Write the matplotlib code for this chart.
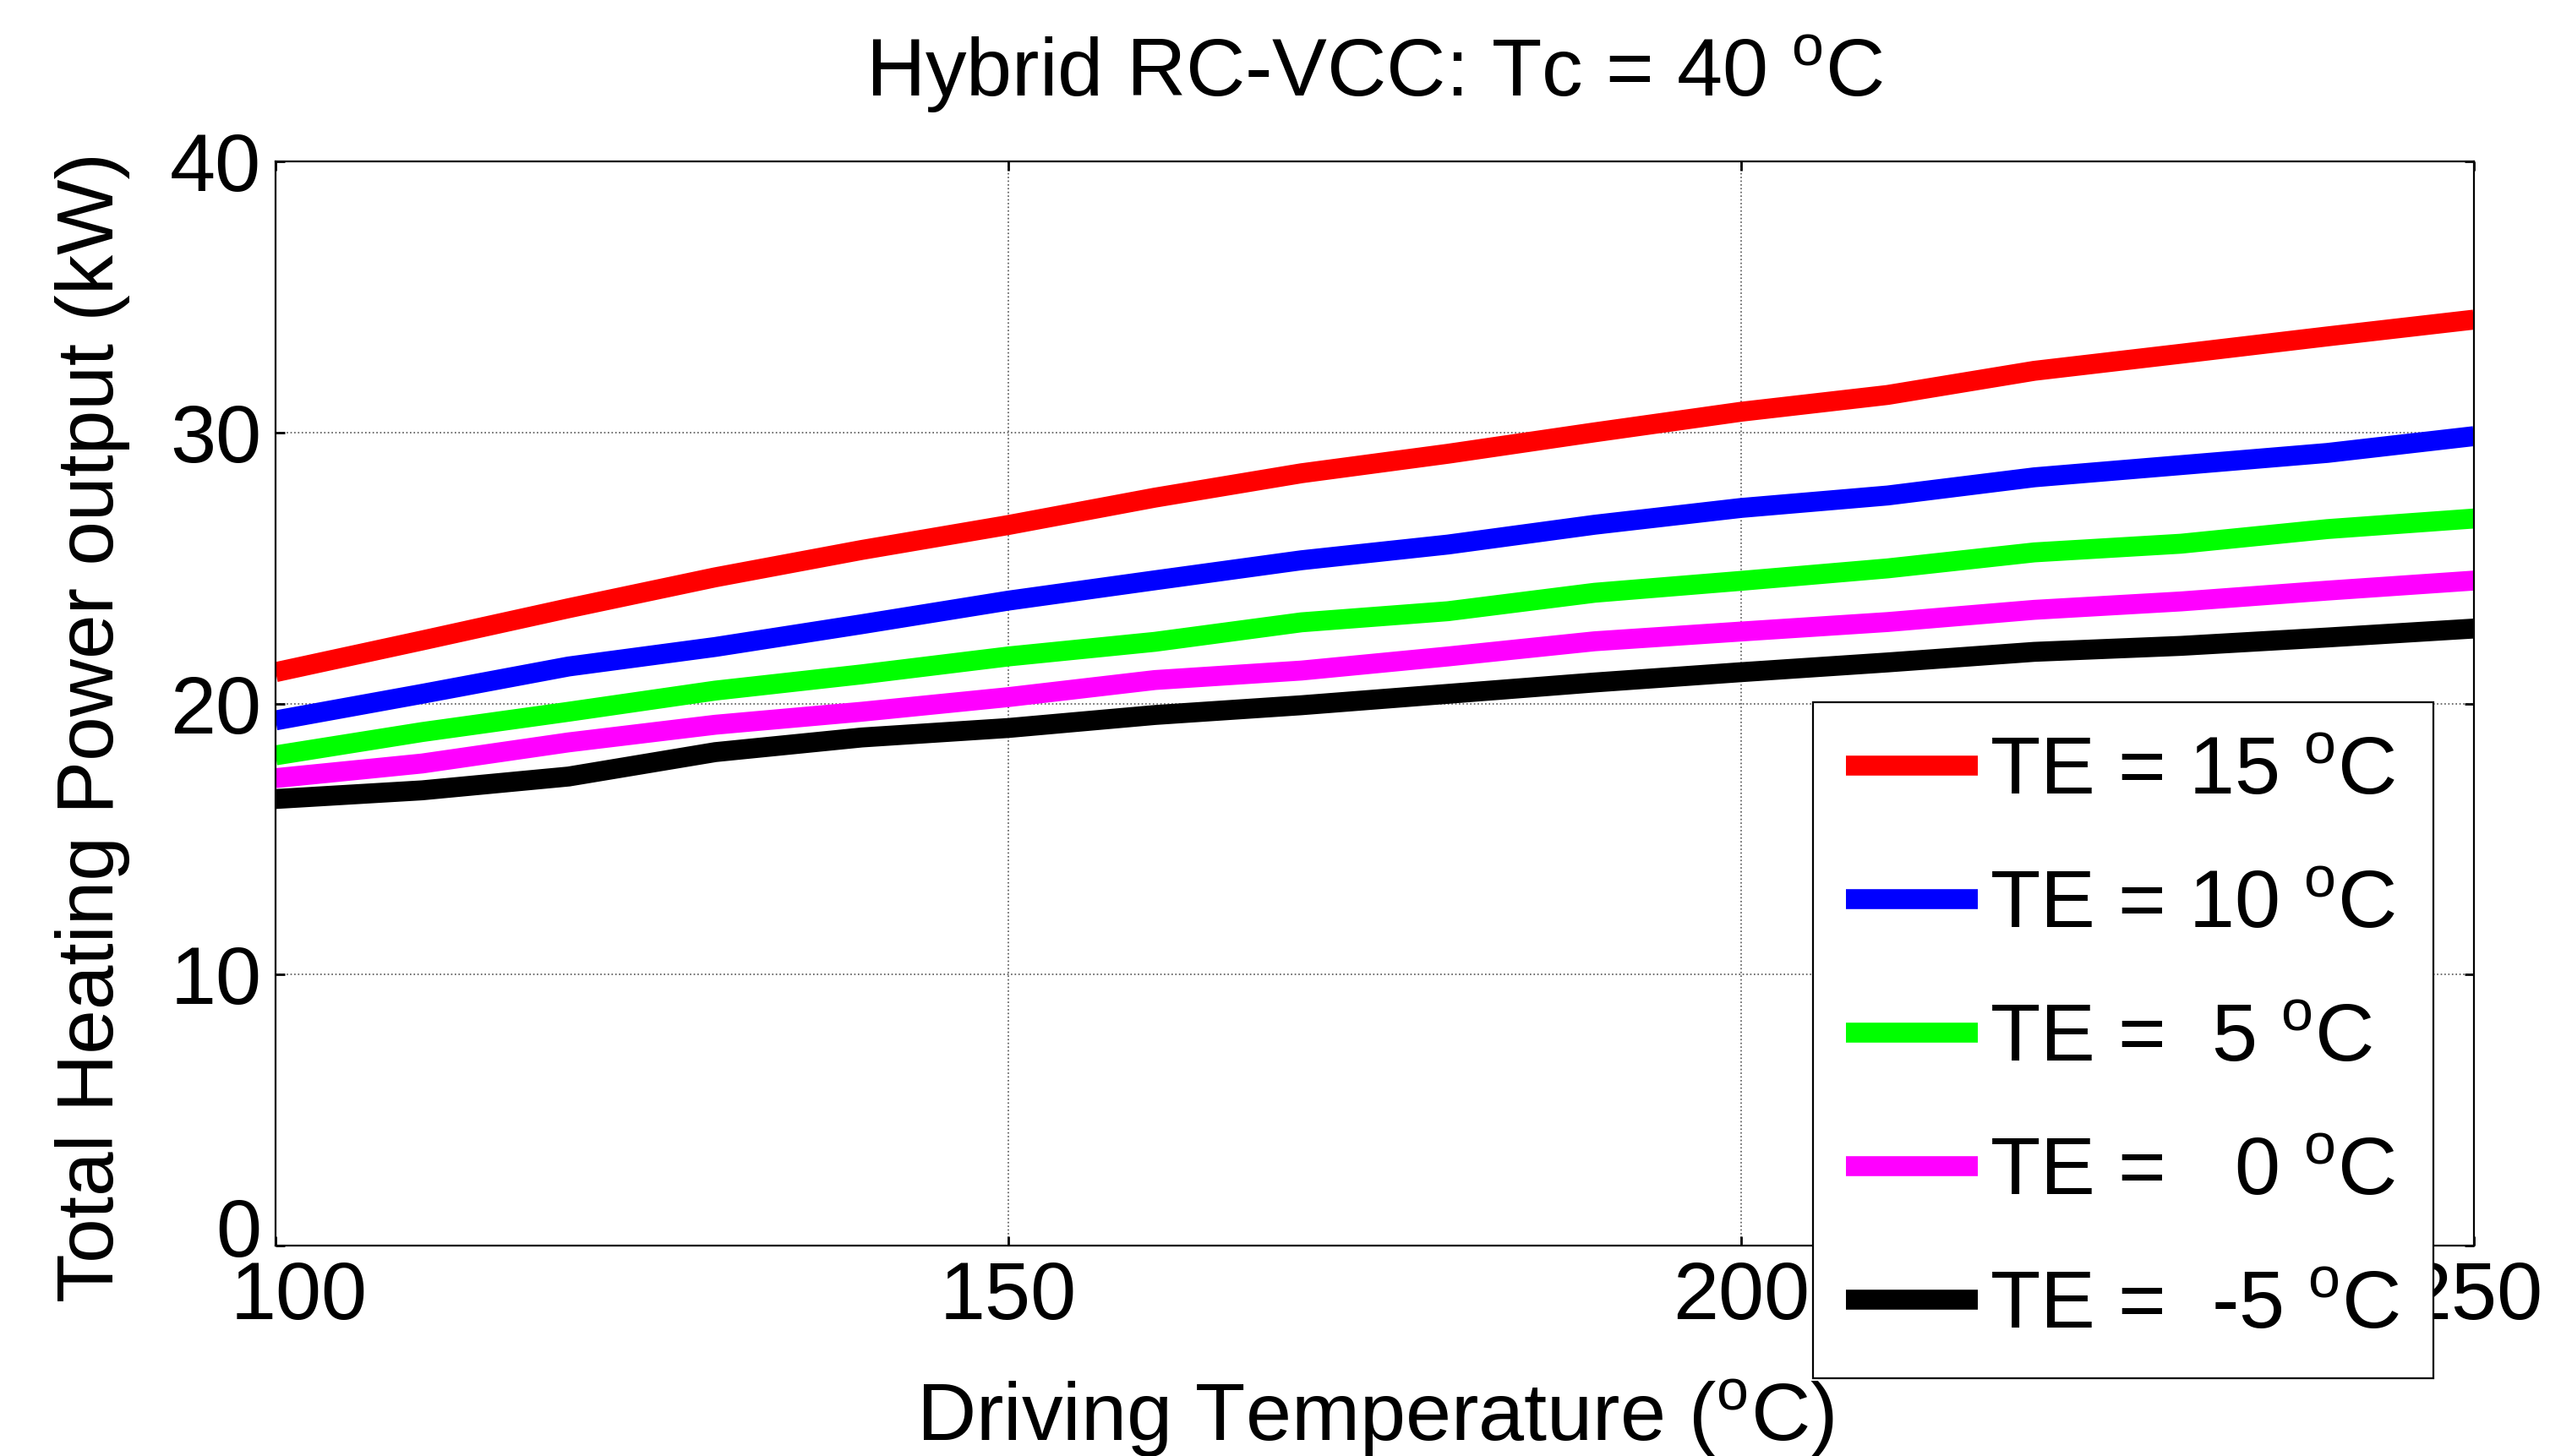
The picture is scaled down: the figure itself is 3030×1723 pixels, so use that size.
import matplotlib
matplotlib.use('Agg')
import matplotlib.pyplot as plt
import matplotlib.transforms as mtransforms
import numpy as np

plt.rcParams['font.family'] = ['Liberation Sans', 'DejaVu Sans']
plt.rcParams['mathtext.fontset'] = 'custom'
plt.rcParams['mathtext.rm'] = 'Liberation Sans'
plt.rcParams['mathtext.it'] = 'Liberation Sans:italic'

# driving temperature (C)
drive_temp = [100, 110, 120, 130, 140, 150, 160, 170, 180, 190, 200, 210, 220, 230, 240, 250]

# total heating power (kW) for each evaporator temperature
te_15 = [21.16, 22.33, 23.52, 24.66, 25.67, 26.59, 27.60, 28.50, 29.22, 30.01, 30.77, 31.39, 32.28, 32.91, 33.55, 34.17]
te_10 = [19.38, 20.36, 21.37, 22.09, 22.93, 23.80, 24.55, 25.29, 25.87, 26.60, 27.22, 27.68, 28.35, 28.80, 29.25, 29.87]
te_5 = [18.09, 18.95, 19.70, 20.48, 21.08, 21.74, 22.28, 23.00, 23.41, 24.09, 24.53, 24.99, 25.58, 25.90, 26.44, 26.83]
te_0 = [17.25, 17.79, 18.57, 19.22, 19.70, 20.24, 20.87, 21.22, 21.74, 22.30, 22.66, 23.01, 23.46, 23.77, 24.17, 24.54]
te_m5 = [16.48, 16.80, 17.31, 18.21, 18.75, 19.10, 19.58, 19.94, 20.36, 20.78, 21.16, 21.52, 21.91, 22.13, 22.44, 22.77]

series = [te_15, te_10, te_5, te_0, te_m5]
colors = ['#ff0000', '#0000ff', '#00ff00', '#ff00ff', '#000000']
labels = ['TE = 15 $^{\\mathrm{o}}$C',
          'TE = 10 $^{\\mathrm{o}}$C',
          'TE =  5 $^{\\mathrm{o}}$C',
          'TE =   0 $^{\\mathrm{o}}$C',
          'TE =  -5 $^{\\mathrm{o}}$C']

fs = 35

fig = plt.figure(figsize=(15.15, 8.615), dpi=200)
ax = fig.add_axes([0.1076, 0.1445, 0.8584, 0.7445])

for vals, c, lab in zip(series, colors, labels):
    ax.plot(drive_temp, vals, color=c, linewidth=8.5, label=lab, solid_capstyle='butt')

ax.set_xlim(100, 250)
ax.set_ylim(0, 40)
ax.set_xticks([100, 150, 200, 250])
ax.set_yticks([0, 10, 20, 30, 40])
ax.grid(True, linestyle=':', color='#555555', linewidth=0.6)
ax.tick_params(direction='in', length=4, width=1, labelsize=fs, pad=6,
               top=True, right=True)
for s in ax.spines.values():
    s.set_linewidth(0.8)

# MATLAB-style nudges of the corner tick labels
ylab0 = ax.get_yticklabels()[0]
ylab0.set_transform(ylab0.get_transform() +
                    mtransforms.ScaledTranslation(0, 8 / 72, fig.dpi_scale_trans))
xlab0 = ax.get_xticklabels()[0]
xlab0.set_transform(xlab0.get_transform() +
                    mtransforms.ScaledTranslation(10 / 72, 0, fig.dpi_scale_trans))

ax.set_title('Hybrid RC-VCC: Tc = 40 $^{\\mathrm{o}}$C', fontsize=fs, pad=28)
ax.set_xlabel('Driving Temperature ($^{\\mathrm{o}}$C)', fontsize=fs, labelpad=18)
ax.set_ylabel('Total Heating Power output (kW)', fontsize=34)
ax.yaxis.set_label_coords(-0.066, 0.478)

leg = ax.legend(loc='upper left', bbox_to_anchor=(0.708, 0.5177),
                bbox_transform=fig.transFigure, fontsize=fs, frameon=True,
                fancybox=False, edgecolor='black', framealpha=1,
                handlelength=1.6, handletextpad=0.15, labelspacing=0.7,
                borderpad=0.4, borderaxespad=0)
leg.get_frame().set_linewidth(0.8)
leg.set_zorder(5)

fig.savefig('out.png', dpi=200, facecolor='white')
